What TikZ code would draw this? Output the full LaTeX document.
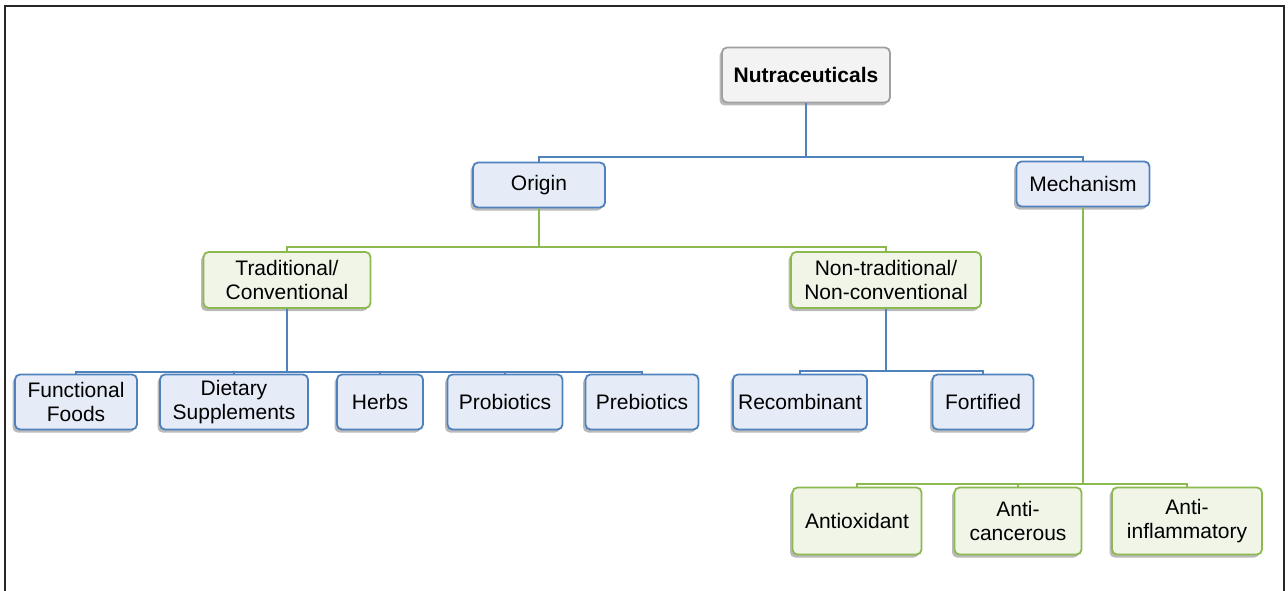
\documentclass[tikz,border=0pt]{standalone}
\usepackage{fontspec}
\setmainfont{Liberation Sans}
\usetikzlibrary{shadows}
\definecolor{bline}{RGB}{79,129,189}
\definecolor{bfill}{RGB}{229,236,247}
\definecolor{gline}{RGB}{140,185,80}
\definecolor{gfill}{RGB}{240,245,232}
\definecolor{tline}{RGB}{160,160,160}
\definecolor{tfill}{RGB}{243,243,243}
\begin{document}
\begin{tikzpicture}[x=1pt,y=-1pt,
    box/.style={rounded corners=5pt,line width=1.8pt,align=center,inner sep=2pt,
        font=\fontsize{21}{24}\selectfont,
        drop shadow={shadow xshift=-2.5pt,shadow yshift=-3pt,opacity=.45,fill=black!60}},
    bbox/.style={box,draw=bline,fill=bfill},
    gbox/.style={box,draw=gline,fill=gfill},
    tbox/.style={box,draw=tline,fill=tfill,font=\fontsize{21}{24}\selectfont\bfseries},
    bcon/.style={draw=bline,line width=2pt},
    gcon/.style={draw=gline,line width=2pt}]
    \useasboundingbox (0,0) rectangle (1288,591);
    \draw[line width=2pt,black!85] (5,591) -- (5,6) -- (1284,6) -- (1284,591);
    % top and second row
    \node[tbox,minimum width=168pt,minimum height=55pt](nutra) at (806,75){Nutraceuticals};
    \node[bbox,minimum width=132pt,minimum height=45pt](origin) at (539,185){Origin};
    \node[bbox,minimum width=133pt,minimum height=45pt](mech) at (1083,184){Mechanism};
    \node[gbox,minimum width=167pt,minimum height=56pt](trad) at (287,280){Traditional/\\Conventional};
    \node[gbox,minimum width=190pt,minimum height=56pt](nontrad) at (886,280){Non-traditional/\\Non-conventional};
    % leaves
    \node[bbox,minimum width=122pt,minimum height=55pt](ff) at (76,402){Functional\\Foods};
    \node[bbox,minimum width=148pt,minimum height=55pt](ds) at (234,402){Dietary\\Supplements};
    \node[bbox,minimum width=86pt,minimum height=55pt](herbs) at (380,402){Herbs};
    \node[bbox,minimum width=115pt,minimum height=55pt](pro) at (505,402){Probiotics};
    \node[bbox,minimum width=113pt,minimum height=55pt](pre) at (642,402){Prebiotics};
    \node[bbox,minimum width=134pt,minimum height=55pt](rec) at (800,402){Recombinant};
    \node[bbox,minimum width=101pt,minimum height=55pt](fort) at (983,402){Fortified};
    \node[gbox,minimum width=129pt,minimum height=67pt](antiox) at (857,521){Antioxidant};
    \node[gbox,minimum width=127pt,minimum height=67pt](antican) at (1018,521){Anti-\\cancerous};
    \node[gbox,minimum width=150pt,minimum height=67pt](antiinf) at (1187,521){Anti-\\inflammatory};
    % connectors
    \foreach \c in {origin,mech}
        \draw[bcon](nutra.south) -- ++(0,54) -| (\c.north);
    \foreach \c in {trad,nontrad}
        \draw[gcon](origin.south) -- ++(0,39) -| (\c.north);
    \foreach \c in {ff,ds,herbs,pro,pre}
        \draw[bcon](trad.south) -- ++(0,63) -| (\c.north);
    \foreach \c in {rec,fort}
        \draw[bcon](nontrad.south) -- ++(0,62) -| (\c.north);
    \foreach \c in {antiox,antican,antiinf}
        \draw[gcon](mech.south) -- ++(0,277) -| (\c.north);
\end{tikzpicture}
\end{document}
